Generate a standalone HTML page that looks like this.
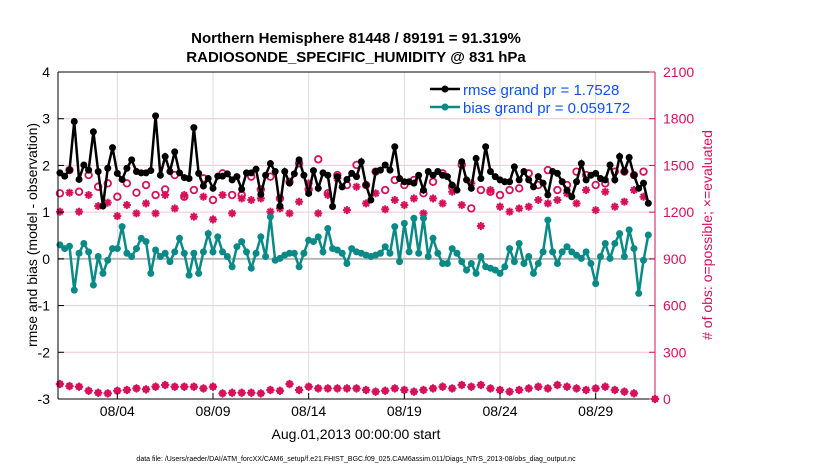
<!DOCTYPE html>
<html><head><meta charset="utf-8">
<style>
body{margin:0;background:#fff;font-family:"Liberation Sans",sans-serif;}
svg{display:block}
</style></head>
<body>
<svg id="chart" width="830" height="470" xmlns="http://www.w3.org/2000/svg" font-family="Liberation Sans, sans-serif">
<text x="356" y="43" text-anchor="middle" font-size="15" font-weight="bold">Northern Hemisphere 81448 / 89191 = 91.319%</text>
<text x="356" y="62" text-anchor="middle" font-size="15" font-weight="bold">RADIOSONDE_SPECIFIC_HUMIDITY @ 831 hPa</text>
<g id="grid"></g>
<g id="plot"></g>
<g id="axes"></g>
<text transform="translate(37,235) rotate(-90)" text-anchor="middle" font-size="14">rmse and bias (model - observation)</text>
<text transform="translate(712,235) rotate(-90)" text-anchor="middle" font-size="14" fill="#d6115a"># of obs: o=possible; ×=evaluated</text>
<text x="356" y="439" text-anchor="middle" font-size="14">Aug.01,2013 00:00:00 start</text>
<text x="356" y="461" text-anchor="middle" font-size="7">data file: /Users/raeder/DAI/ATM_forcXX/CAM6_setup/f.e21.FHIST_BGC.f09_025.CAM6assim.011/Diags_NTrS_2013-08/obs_diag_output.nc</text>
<g>
<line x1="430" y1="89" x2="460" y2="89" stroke="#000" stroke-width="2.5"/>
<circle cx="445" cy="89" r="3.5" fill="#000"/>
<text x="463" y="95" font-size="15" fill="#1450f0">rmse grand pr = 1.7528</text>
<line x1="430" y1="107" x2="460" y2="107" stroke="#0a8a87" stroke-width="2.5"/>
<circle cx="445" cy="107" r="3.5" fill="#0a8a87"/>
<text x="463" y="113" font-size="15" fill="#1450f0">bias grand pr = 0.059172</text>
</g>
</svg>
<script>
const rmse=[1.84,1.77,1.90,2.94,1.70,2.01,1.90,2.72,1.87,1.13,1.94,2.38,1.83,1.70,1.94,2.12,1.87,1.84,1.84,1.89,3.06,1.79,2.19,1.87,2.29,1.84,1.74,1.72,2.81,1.83,1.56,1.72,1.51,1.77,1.77,1.82,1.69,1.76,1.49,1.84,1.84,1.92,1.38,1.79,2.04,1.87,1.13,1.87,1.62,1.82,2.12,1.79,1.40,1.89,1.51,1.84,1.79,1.12,1.76,1.54,1.70,1.83,
1.76,2.08,1.58,1.26,1.87,1.90,2.01,1.90,2.40,1.72,1.65,1.65,1.62,1.79,1.47,1.87,1.79,1.87,1.79,1.76,1.58,1.47,2.08,1.69,1.51,2.15,1.72,2.40,1.87,1.76,1.69,1.65,1.65,1.97,1.69,1.87,1.69,1.54,1.76,1.62,1.37,1.87,1.83,1.65,1.47,1.33,1.65,2.04,1.69,1.79,1.83,1.72,1.69,2.01,1.69,2.19,1.87,2.17,1.79,1.51,1.62,1.19];
const bias=[0.30,0.22,0.27,-0.67,0.12,0.33,0.15,-0.56,0.05,-0.31,-0.03,0.22,0.22,0.69,0.12,0.05,0.22,0.44,0.37,-0.31,0.19,0.05,0.12,-0.06,0.15,0.44,0.12,-0.35,0.12,-0.31,0.15,0.54,0.15,0.47,0.15,0.05,-0.17,0.26,0.37,0.15,-0.20,0.12,0.47,0.05,0.90,-0.03,0.01,0.08,0.12,0.12,-0.17,0.12,0.40,0.37,0.47,0.15,0.65,0.22,0.19,0.12,-0.10,0.22,
0.15,0.12,0.08,0.05,0.08,0.12,0.26,0.12,0.69,-0.06,0.76,0.15,0.87,0.12,0.87,0.05,0.44,0.12,-0.10,-0.10,0.22,0.12,-0.06,-0.24,-0.10,-0.31,0.05,-0.17,-0.20,-0.24,-0.31,-0.17,0.22,-0.06,0.33,-0.10,0.05,-0.31,-0.10,0.15,0.83,0.15,-0.10,0.15,0.26,0.15,0.08,0.01,0.15,-0.10,-0.53,0.05,0.33,0.01,0.33,0.54,0.05,0.62,0.22,-0.74,-0.03,0.51];
const possible=[1321,1470,1331,1438,1363,1385,1299,1385,1325,1374,1310,1346,1438,1299,1342,1417,1278,1449,1310,1310,1428,1346,1428,1288,1395,1513,1346,1539,1321,1438,1374,
1503,1374,1460,1342,1406,1374,1406,1321,1395,1449,1363,1503,1224,1342,1331,1310,1342,1353,1449,1374,1470,1342,1374,1460,1438,1374,1385,1460,1460,1438,1460];
const evaluated=[1203,1325,1203,1310,1239,1261,1175,1246,1192,1256,1192,1310,1224,1310,1171,1299,1153,1310,1192,1288,1278,1288,1203,1224,1192,1267,1385,1192,1310,1417,1213,
1363,1256,1321,1218,1278,1246,1288,1192,1288,1256,1331,1246,1385,1111,1342,1235,1203,1224,1235,1278,1256,1278,1321,1256,1342,1213,1331,1235,1267,1342,1299];
const usedCount=[96,83,79,53,40,36,53,58,68,62,79,90,79,79,79,68,79,36,40,40,40,36,58,53,96,58,79,68,68,68,68,
68,58,47,53,68,58,47,58,68,79,68,90,79,90,68,58,47,58,68,79,68,90,79,68,58,68,79,58,47,36,0];
const xTickLabels=["08/04","08/09","08/14","08/19","08/24","08/29"];
const xTickDays=[3,8,13,18,23,28];
const yLeftTicks=[-3,-2,-1,0,1,2,3,4];
const yRightTicks=[0,300,600,900,1200,1500,1800,2100];

const L=58,R=655,T=72,B=399;
const NS='http://www.w3.org/2000/svg';
const xs=t=>L+(t+0.1)*(R-L)/31.2;
const yl=v=>B-(v+3)*(B-T)/7;
const yr=v=>B-v*(B-T)/2100;
const PINK='#d6115a',TEAL='#0a8a87';
function mk(tag,attrs,parent){const e=document.createElementNS(NS,tag);for(const k in attrs)e.setAttribute(k,attrs[k]);parent.appendChild(e);return e;}
const grid=document.getElementById('grid'),plot=document.getElementById('plot'),axes=document.getElementById('axes');
mk('rect',{x:L,y:T,width:R-L,height:B-T,fill:'#fff'},grid);
yRightTicks.forEach(v=>{const g=mk('line',{x1:L,x2:R,y1:yr(v),y2:yr(v),stroke:'#f2c6d6','stroke-width':1},grid);

});
xTickDays.forEach((d,i)=>{const g=mk('line',{x1:xs(d),x2:xs(d),y1:T,y2:B,stroke:'#dcdcdc','stroke-width':1},grid);


const tl=mk('text',{x:xs(d),y:B+17,'text-anchor':'middle','font-size':14},axes);tl.textContent=xTickLabels[i];


mk('line',{x1:xs(d),x2:xs(d),y1:B,y2:B-6,stroke:'#000'},axes);});
const z=mk('line',{x1:L,x2:R,y1:yl(0),y2:yl(0),stroke:'#b9b9b9','stroke-width':2},grid);


function star(cx,cy,parent){const g=mk('g',{stroke:PINK,'stroke-width':2},parent);
for(let a=0;a<4;a++){const ang=a*Math.PI/4;mk('line',{x1:cx-4*Math.cos(ang),y1:cy-4*Math.sin(ang),x2:cx+4*Math.cos(ang),y2:cy+4*Math.sin(ang)},g);}return g;}
const obsT=j=>j*0.5;
const gp=mk('g',{},plot);


possible.forEach((v,j)=>{mk('circle',{cx:xs(obsT(j)),cy:yr(v),r:3.3,fill:'none',stroke:PINK,'stroke-width':1.8},gp);});
const ge=mk('g',{},plot);


evaluated.forEach((v,j)=>star(xs(obsT(j)),yr(v),ge));
const gu=mk('g',{},plot);


usedCount.forEach((v,j)=>{const t=j===usedCount.length-1?31.1:obsT(j);star(xs(t),yr(v),gu);
mk('path',{d:`M${xs(t)} ${yr(v)-4.5}l4.5 4.5l-4.5 4.5l-4.5 -4.5z`,fill:PINK},gu);});
function series(arr,color,name){const g=mk('g',{},plot);


mk('polyline',{points:arr.map((v,i)=>xs(i*0.25)+','+yl(v)).join(' '),fill:'none',stroke:color,'stroke-width':2.5},g);
arr.forEach((v,i)=>mk('circle',{cx:xs(i*0.25),cy:yl(v),r:3.5,fill:color},g));}
series(bias,TEAL,'bias-series');
series(rmse,'#000','rmse-series');
mk('line',{x1:L,x2:L,y1:T,y2:B,stroke:'#000'},axes);
mk('line',{x1:L,x2:R,y1:B,y2:B,stroke:'#000'},axes);
mk('line',{x1:L,x2:R,y1:T,y2:T,stroke:'#000'},axes);
mk('line',{x1:R,x2:R,y1:T,y2:B,stroke:PINK},axes);
yLeftTicks.forEach(v=>{mk('line',{x1:L,x2:L+6,y1:yl(v),y2:yl(v),stroke:'#000'},axes);
const t=mk('text',{x:L-8,y:yl(v)+5,'text-anchor':'end','font-size':14},axes);t.textContent=v;

});
yRightTicks.forEach(v=>{mk('line',{x1:R,x2:R-6,y1:yr(v),y2:yr(v),stroke:PINK},axes);
const t=mk('text',{x:R+8,y:yr(v)+5,'font-size':14,fill:PINK},axes);t.textContent=v;

});
</script>
</body></html>
